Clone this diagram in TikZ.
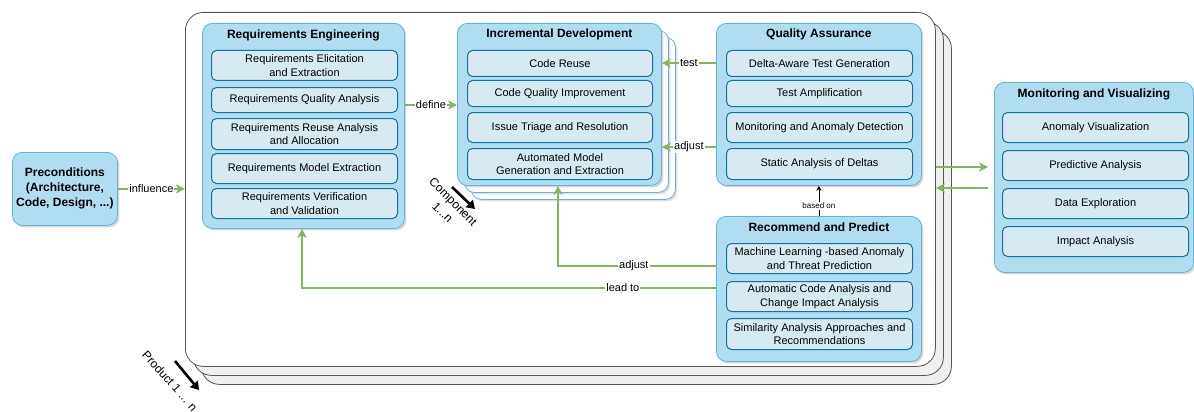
\documentclass[tikz,border=0pt]{standalone}
\usepackage{fontspec}
\setmainfont{Liberation Sans}
\usetikzlibrary{arrows.meta,shadows,calc}
\definecolor{contf}{HTML}{B1DDF0}
\definecolor{contb}{HTML}{6AB0D6}
\definecolor{itemf}{HTML}{D8EAF1}
\definecolor{itemb}{HTML}{10739E}
\definecolor{garr}{HTML}{82B366}
\definecolor{frameb}{HTML}{555555}
\definecolor{backf}{HTML}{EFEFEF}
\tikzset{
  frame/.style={draw=frameb, rounded corners=18pt, anchor=north west, inner sep=0pt, line width=0.8pt},
  cont/.style={draw=contb, fill=contf, rounded corners=10pt, anchor=north west, inner sep=0pt, line width=0.8pt,
    drop shadow={shadow xshift=2pt, shadow yshift=-2pt, opacity=0.25, fill=black!60}},
  backbox/.style={draw=contb, fill=white, rounded corners=10pt, anchor=north west, inner sep=0pt, line width=0.8pt,
    drop shadow={shadow xshift=2pt, shadow yshift=-2pt, opacity=0.2, fill=black!60}},
  item/.style={draw=itemb, fill=itemf, rounded corners=5pt, line width=1pt, anchor=north west, inner sep=0pt,
    align=center, font=\fontsize{11}{13.5}\selectfont},
  ttl/.style={font=\bfseries\fontsize{12}{14}\selectfont, inner sep=0pt},
  garrow/.style={draw=garr, line width=1.7pt, -{Stealth[length=9pt,width=9pt,inset=2.5pt]}},
  glabel/.style={fill=white, inner sep=1pt, font=\fontsize{11}{13}\selectfont},
  barrow/.style={draw=black, line width=0.7pt, -{Stealth[length=5pt,width=5pt]}},
  blabel/.style={fill=white, inner sep=1pt, font=\fontsize{8}{10}\selectfont},
  blkarr/.style={draw=black, line width=2.6pt, -{Triangle[length=8pt,width=10pt]}},
  rotlbl/.style={align=center, inner sep=0pt, font=\fontsize{12}{15}\selectfont},
}
\begin{document}
\begin{tikzpicture}[x=1pt,y=-1pt]
\useasboundingbox (0,0) rectangle (1194,412);

% product frames
\node[frame, fill=backf, minimum width=750pt, minimum height=354pt] (prodC) at (201,30) {};
\node[frame, fill=backf, minimum width=750pt, minimum height=354pt] (prodB) at (193,21) {};
\node[frame, fill=white, minimum width=750pt, minimum height=354pt] (prod) at (185,12) {};

% preconditions
\node[cont, minimum width=105pt, minimum height=73pt] (pre) at (12,152) {};
\node[align=center, font=\bfseries\fontsize{12}{15}\selectfont, inner sep=0pt] (pretxt) at (pre.center) {Preconditions\\(Architecture,\\Code, Design, ...)};

% Requirements Engineering
\node[cont, minimum width=202pt, minimum height=205pt] (re) at (202,23) {};
\node[ttl] (retitle) at ($(re.north)+(0,12)$) {Requirements Engineering};
\node[item, minimum width=186pt, minimum height=30pt] (re1) at (211,50) {Requirements Elicitation\\and Extraction};
\node[item, minimum width=186pt, minimum height=25pt] (re2) at (211,87) {Requirements Quality Analysis};
\node[item, minimum width=186pt, minimum height=31pt] (re3) at (211,118) {Requirements Reuse Analysis\\and Allocation};
\node[item, minimum width=186pt, minimum height=30pt] (re4) at (211,153) {Requirements Model Extraction};
\node[item, minimum width=186pt, minimum height=30pt] (re5) at (211,188) {Requirements Verification\\and Validation};

% Incremental Development
\node[backbox, minimum width=204pt, minimum height=162pt] (idC) at (471,37) {};
\node[backbox, minimum width=204pt, minimum height=162pt] (idB) at (464,30) {};
\node[cont, minimum width=204pt, minimum height=162pt] (id) at (457,23) {};
\node[ttl] (idtitle) at ($(id.north)+(0,11)$) {Incremental Development};
\node[item, minimum width=185pt, minimum height=26pt] (id1) at (467,50) {Code Reuse};
\node[item, minimum width=185pt, minimum height=26pt] (id2) at (467,80) {Code Quality Improvement};
\node[item, minimum width=185pt, minimum height=30pt] (id3) at (467,112) {Issue Triage and Resolution};
\node[item, minimum width=185pt, minimum height=31pt] (id4) at (467,148) {Automated Model\\Generation and Extraction};

% Quality Assurance
\node[cont, minimum width=205pt, minimum height=162pt] (qa) at (716,23) {};
\node[ttl] (qatitle) at ($(qa.north)+(0,11)$) {Quality Assurance};
\node[item, minimum width=186pt, minimum height=26pt] (qa1) at (726,50) {Delta-Aware Test Generation};
\node[item, minimum width=186pt, minimum height=26pt] (qa2) at (726,80) {Test Amplification};
\node[item, minimum width=186pt, minimum height=30pt] (qa3) at (726,112) {Monitoring and Anomaly Detection};
\node[item, minimum width=186pt, minimum height=31pt] (qa4) at (726,148) {Static Analysis of Deltas};

% Recommend and Predict
\node[cont, minimum width=205pt, minimum height=145pt] (rp) at (716,216) {};
\node[ttl] (rptitle) at ($(rp.north)+(0,11)$) {Recommend and Predict};
\node[item, minimum width=186pt, minimum height=30pt] (rp1) at (726,243) {Machine Learning -based Anomaly\\and Threat Prediction};
\node[item, minimum width=186pt, minimum height=30pt] (rp2) at (726,281) {Automatic Code Analysis and\\Change Impact Analysis};
\node[item, minimum width=186pt, minimum height=31pt] (rp3) at (726,318) {Similarity Analysis Approaches and\\Recommendations};

% Monitoring and Visualizing
\node[cont, minimum width=199pt, minimum height=190pt] (mv) at (994,82) {};
\node[ttl] (mvtitle) at ($(mv.north)+(0,12)$) {Monitoring and Visualizing};
\node[item, minimum width=186pt, minimum height=30pt] (mv1) at (1002,112) {Anomaly Visualization};
\node[item, minimum width=186pt, minimum height=30pt] (mv2) at (1002,150) {Predictive Analysis};
\node[item, minimum width=186pt, minimum height=30pt] (mv3) at (1002,188) {Data Exploration};
\node[item, minimum width=186pt, minimum height=30pt] (mv4) at (1002,226) {Impact Analysis};

% helper coordinates
\coordinate (ydef) at (0,105);
\coordinate (ytest) at (0,63);
\coordinate (yadj) at (0,147);
\coordinate (cadj) at (558,266);
\coordinate (clead) at (302,288);
\coordinate (ym1) at (0,167);
\coordinate (ym2) at (0,188);

% connectors
\draw[garrow] (pre.east) -- node[glabel]{influence} (prod.west |- pre.east);
\draw[garrow] (re.east |- ydef) -- node[glabel]{define} (id.west |- ydef);
\draw[garrow] (qa.west |- ytest) -- node[glabel]{test} (id.east |- ytest);
\draw[garrow] (qa.west |- yadj) -- node[glabel]{adjust} (id.east |- yadj);
\draw[barrow] (rp.north) -- node[blabel, pos=0.33]{based on} (qa.south);
\draw[garrow] (rp.west |- cadj) -- node[glabel, pos=0.52]{adjust} (cadj) -- (id.south -| cadj);
\draw[garrow] (rp.west |- clead) -- node[glabel, pos=0.225]{lead to} (clead) -- (re.south -| clead);
\draw[garrow, shorten >=6pt] (prod.east |- ym1) -- (mv.west |- ym1);
\draw[garrow, shorten <=6pt] (mv.west |- ym2) -- (prod.east |- ym2);

% stack labels
\coordinate (ca1) at (452,187);
\coordinate (ca2) at (475,209);
\draw[blkarr] (ca1) -- (ca2);
\node[rotlbl, rotate=-45] (complbl) at (448,207) {Component\\1...n};
\coordinate (pa1) at (175,361);
\coordinate (pa2) at (199,390);
\draw[blkarr] (pa1) -- (pa2);
\node[rotlbl, rotate=-48] (prodlbl) at (170,381) {Product 1 ... n};
\end{tikzpicture}
\end{document}
